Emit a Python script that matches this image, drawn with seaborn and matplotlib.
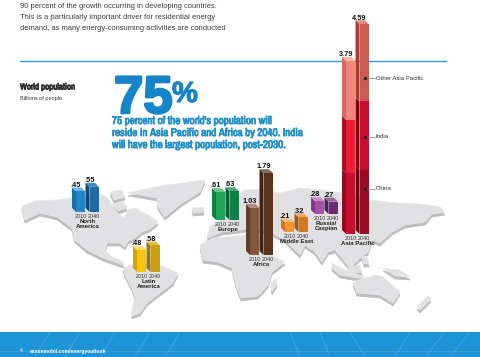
import numpy as np
import pandas as pd
import matplotlib
matplotlib.use('Agg')
import matplotlib.pyplot as plt
import matplotlib.patheffects as pe
from matplotlib.patches import Polygon
import seaborn as sns

# Values (billions of people)
years = ['2010', '2040']
north_america = [0.45, 0.55]
latin_america = [0.48, 0.58]
europe = [0.61, 0.63]
africa = [1.03, 1.79]
middle_east = [0.21, 0.32]
russia_caspian = [0.28, 0.27]
china = [1.33, 1.40]
india = [1.17, 1.50]
other_asia = [1.29, 1.69]
asia_labels = ['3.79', '4.59']

W, H = 480, 357
PX_PER_UNIT = 45.7
DEPTH = 4.0

sns.set_theme(style='white')
plt.rcParams['font.family'] = ['Liberation Sans', 'DejaVu Sans']
NARROW = ['Archivo Narrow', 'Liberation Sans']

fig = plt.figure(figsize=(W / 100, H / 100), dpi=100, facecolor='white')

# page layer in pixel coordinates
bg = fig.add_axes([0, 0, 1, 1], zorder=0)
bg.set_xlim(0, W)
bg.set_ylim(H, 0)
bg.axis('off')

# rough land shapes for the backdrop map
land = [
    # North America
    [(22, 206), (35, 201), (55, 200), (72, 198), (100, 193), (108, 198), (112, 205), (118, 214),
     (124, 218), (128, 210), (135, 208), (142, 212), (150, 216), (158, 222), (150, 229), (142, 232),
     (135, 238), (128, 241), (125, 247), (120, 243), (107, 243), (105, 250), (112, 257), (120, 260),
     (125, 265), (120, 264), (103, 258), (87, 250), (75, 240), (72, 228), (57, 217), (40, 213), (25, 220)],
    # South America
    [(123, 268), (133, 264), (160, 265), (178, 273), (173, 283), (160, 293), (147, 303), (140, 313),
     (132, 316), (132, 310), (135, 297), (132, 288), (125, 275)],
    # Greenland, Iceland and the Arctic islands
    [(128, 193), (140, 190), (167, 185), (205, 180), (200, 192), (182, 203), (165, 217), (158, 207),
     (157, 198), (140, 195)],
    [(192, 208), (203, 207), (204, 212), (193, 213)],
    [(110, 192), (122, 190), (125, 197), (114, 200)],
    [(112, 204), (124, 202), (127, 208), (118, 211)],
    # Africa and Madagascar
    [(200, 245), (213, 238), (245, 235), (262, 240), (272, 255), (285, 262), (272, 272), (268, 285),
     (258, 296), (241, 298), (236, 285), (232, 268), (218, 262), (203, 260)],
    [(271, 283), (276, 278), (277, 284), (272, 292)],
    # Eurasia
    [(207, 238), (210, 226), (222, 220), (226, 212), (232, 198), (245, 190), (262, 189), (280, 193),
     (300, 188), (320, 190), (345, 193), (370, 200), (395, 203), (420, 204), (440, 207), (445, 212),
     (432, 214), (425, 222), (405, 225), (392, 232), (380, 243), (372, 240), (368, 252), (358, 260),
     (350, 268), (345, 262), (335, 250), (328, 252), (322, 262), (315, 252), (305, 245), (300, 255),
     (285, 240), (270, 232), (255, 228), (240, 230), (222, 232)],
    # Japan, islands, Australia, New Zealand
    [(383, 228), (390, 221), (392, 224), (386, 232)],
    [(332, 263), (345, 270), (365, 277), (358, 278), (340, 275), (332, 268)],
    [(348, 267), (360, 265), (362, 272), (350, 274)],
    [(362, 257), (367, 256), (369, 264), (364, 264)],
    [(383, 268), (400, 270), (410, 277), (395, 276)],
    [(353, 283), (363, 278), (377, 275), (383, 277), (400, 292), (393, 303), (380, 295), (357, 293)],
    [(417, 307), (428, 296), (431, 299), (420, 310)],
]
for shape in land:
    pts = np.array(shape, dtype=float)
    bg.add_patch(Polygon(pts + [0, 3], closed=True, fc='#bdbdbf', ec='#bdbdbf', lw=0.5, zorder=1))
for shape in land:
    bg.add_patch(Polygon(shape, closed=True, fc='#e1e1e3', ec='#e8e8ea', lw=0.5, zorder=2))

# rule and footer band
bg.plot([20, 446], [61, 61], color='#2a9bd8', lw=1.0, zorder=3)
bg.fill_between([0, W], 332, H, color='#1e93d6', lw=0, zorder=3)
for x0, x1 in [(35, 50), (65, 80), (100, 115), (135, 150), (165, 180), (300, 290), (330, 320), (365, 350), (395, 410), (425, 445), (450, 470)]:
    bg.plot([x0, x1], [357, 332], color='#5ab3e4', lw=0.5, alpha=0.7, zorder=4)
bg.plot([0, W], [351, 351], color='#5ab3e4', lw=0.5, alpha=0.6, zorder=4)
bg.text(20, 351, '4', fontsize=3.6, color='white', va='center', zorder=5)
bg.text(30, 351, 'exxonmobil.com/energyoutlook', fontsize=3.6, color='white', va='center',
        fontweight='bold', zorder=5)

# page text
body_lines = ['90 percent of the growth occurring in developing countries.',
              'This is a particularly important driver for residential energy',
              'demand, as many energy-consuming activities are conducted']
for y, line in zip([6, 17.5, 28.5], body_lines):
    bg.text(20.5, y, line, fontsize=5.42, color='#3c3c3c', va='center')
# the narrow family has no bold cut here, so a thin stroke thickens it
bg.text(20, 87, 'World population', fontsize=6.4, color='#2b2b2b', va='center', family=NARROW,
        path_effects=[pe.withStroke(linewidth=0.5, foreground='#2b2b2b')])
bg.text(20, 98.5, 'Billions of people', fontsize=4.0, color='#333333', va='center')

stroke = [pe.withStroke(linewidth=1.8, foreground='#1584c9')]
bg.text(114, 113, '75', fontsize=38, fontweight='bold', color='#1584c9', va='baseline', path_effects=stroke)
bg.text(172, 102, '%', fontsize=21, fontweight='bold', color='#1584c9', va='baseline', path_effects=[pe.withStroke(linewidth=0.8, foreground='#1584c9')])
blue_lines = ["75 percent of the world's population will",
              'reside in Asia Pacific and Africa by 2040. India',
              'will have the largest population, post-2030.']
for y, line in zip([121, 133, 145], blue_lines):
    bg.text(112, y, line, fontsize=8.0, color='#2390c8', va='center', family=NARROW,
            path_effects=[pe.withStroke(linewidth=0.6, foreground='#2390c8')])


def add_3d_faces(ax, bars, side_colors, top_colors=None):
    # side and top faces are derived from the bar rectangles seaborn drew
    x0, x1 = ax.get_xlim()
    y0, y1 = ax.get_ylim()
    box = ax.get_position()
    dx = DEPTH * (x1 - x0) / (box.width * W)
    dy = DEPTH * (y1 - y0) / (box.height * H)
    for i, bar in enumerate(bars):
        left, right = bar.get_x(), bar.get_x() + bar.get_width()
        low, high = bar.get_y(), bar.get_y() + bar.get_height()
        ax.add_patch(Polygon([(left, low), (left, high), (left - dx, high + dy), (left - dx, low + dy)],
                             closed=True, fc=side_colors[i], lw=0, clip_on=False, zorder=3))
        if top_colors is not None:
            ax.add_patch(Polygon([(left, high), (right, high), (right - dx, high + dy), (left - dx, high + dy)],
                                 closed=True, fc=top_colors[i], lw=0, clip_on=False, zorder=3))


def make_axes(left_px, base_px, ymax, zorder=2):
    # 27 px hold the two categories, so both bars land on the pixel scale of the picture
    height = ymax * PX_PER_UNIT
    return fig.add_axes([left_px / W, 1 - base_px / H, 27 / W, height / H], zorder=zorder, facecolor='none')


def finish_axes(ax, name, ymax, name_pad):
    ax.set_ylim(0, ymax)
    ax.set_xlim(-0.5, 1.5)
    ax.set_yticks([])
    ax.set_ylabel('')
    ax.set_xlabel(name, fontsize=4.3, fontweight='bold', color='#222222', labelpad=name_pad, linespacing=0.95)
    ax.tick_params(axis='x', length=0, pad=1.4, labelsize=3.9, labelcolor='#333333')
    sns.despine(ax=ax, left=True, bottom=True)


def label_bar(ax, bar, text, value):
    ax.annotate(text, (bar.get_x() + bar.get_width() / 2, value), xytext=(-3.3, 3.4),
                textcoords='offset points', ha='center', va='baseline', fontsize=5.3,
                fontweight='bold', color='#111111', annotation_clip=False, zorder=6)


def draw_bars(ax, vals, fronts, bottom):
    # seaborn draws the fronts; colours per bar are set afterwards since hue and bottom do not mix
    before = len(ax.patches)
    frame = pd.DataFrame({'year': years, 'population': vals})
    sns.barplot(data=frame, x='year', y='population', color=fronts[0], width=0.7,
                saturation=1, bottom=bottom, errorbar=None, linewidth=0, ax=ax, zorder=4)
    bars = sorted(ax.patches[before:], key=lambda b: b.get_x())
    for bar, c in zip(bars, fronts):
        bar.set_facecolor(c)
    return bars


def regional(values, name, left_px, base_px, fronts, sides, tops, name_pad=0.2):
    ymax = max(values)
    ax = make_axes(left_px, base_px, ymax)
    bars = draw_bars(ax, values, fronts, 0)
    finish_axes(ax, name, ymax, name_pad)
    add_3d_faces(ax, bars, sides, tops)
    for bar, value in zip(bars, values):
        text = f'{value:.2f}'
        if value < 1:
            text = text[1:]
        label_bar(ax, bar, text, value)
    return ax


regional(north_america, 'North\nAmerica', 74, 212,
         ['#2186c8', '#1d6aa6'], ['#1a6ea6', '#14466f'], ['#6fb7e4', '#3f87bd'])
regional(latin_america, 'Latin\nAmerica', 135, 272,
         ['#f6c40c', '#c9a10e'], ['#d3a409', '#97780a'], ['#fbe06c', '#dec04f'])
regional(europe, 'Europe', 214, 220,
         ['#1fa35a', '#128045'], ['#0e7e43', '#0a5f34'], ['#6ec48f', '#4fa878'])
regional(africa, 'Africa', 248, 255,
         ['#80563c', '#5b3420'], ['#5e3e2b', '#3d2215'], ['#ad8a75', '#8d6a58'])
regional(middle_east, 'Middle East', 283, 232,
         ['#f59331', '#d9761f'], ['#d0751f', '#a65616'], ['#f9be80', '#e9a86a'])
regional(russia_caspian, 'Russia/\nCaspian', 313, 214,
         ['#a84fa8', '#6e2a78'], ['#7e3a80', '#4d1b55'], ['#c88ac8', '#96649e'])

# Asia Pacific is stacked
asia_tot = np.array(china) + np.array(india) + np.array(other_asia)
ymax = asia_tot.max()
ax = make_axes(344, 234, ymax, zorder=3)
stack = [(china, np.zeros(2), ['#c8102e', '#9c0a1e'], ['#8f0a1e', '#5e0510'], None),
         (india, np.array(china), ['#ee1c36', '#c40f2a'], ['#a80f20', '#7c0815'], None),
         (other_asia, np.array(china) + np.array(india), ['#f1877a', '#cd5c50'], ['#d66a5e', '#a33f36'], ['#f6b3a8', '#e08a80'])]
for vals, bottom, fronts, sides, tops in stack:
    new_bars = draw_bars(ax, vals, fronts, bottom)
    finish_axes(ax, 'Asia Pacific', ymax, 0.2)
    add_3d_faces(ax, new_bars, sides, tops)
    if tops is not None:
        for bar, label, total in zip(new_bars, asia_labels, asia_tot):
            label_bar(ax, bar, label, total)

# callouts over the tall bars
top = fig.add_axes([0, 0, 1, 1], zorder=5, facecolor='none')
top.set_xlim(0, W)
top.set_ylim(H, 0)
top.axis('off')
for y, name in zip([78, 137, 189], ['Other Asia Pacific', 'India', 'China']):
    top.plot([365, 375], [y, y], color='#777777', lw=0.5)
    top.plot([365], [y], 'o', ms=1.3, color='#222222')
    top.text(376, y, name, fontsize=4.3, color='#333333', va='center')

plt.savefig('out.png', dpi=100)
plt.close()
